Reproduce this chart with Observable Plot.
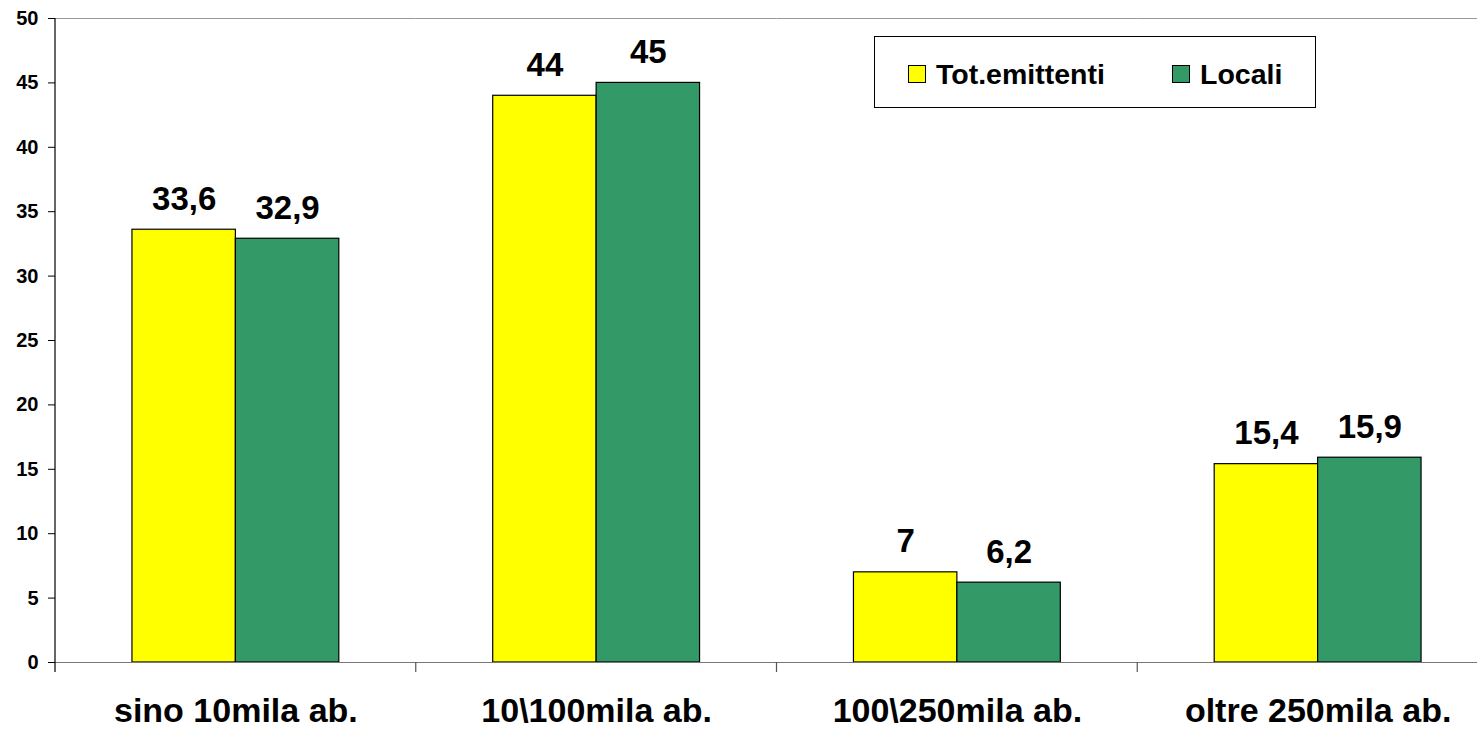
<!DOCTYPE html>
<html>
<head>
<meta charset="utf-8">
<script src="https://cdn.jsdelivr.net/npm/d3@7"></script>
<script src="https://cdn.jsdelivr.net/npm/@observablehq/plot@0.6"></script>
<style>
  html, body { margin: 0; padding: 0; background: #fff; overflow: hidden; }
  #wrap { position: relative; width: 1477px; height: 730px; font-family: "Liberation Sans", Arial, Helvetica, sans-serif; }
  #legend { position: absolute; left: 874px; top: 36px; width: 442px; height: 72px; box-sizing: border-box; border: 1px solid #000; background: #fff; }
  .item { position: absolute; top: 27px; height: 20px; display: flex; align-items: center; font-weight: bold; font-size: 28.5px; line-height: 1; color: #000; }
  .sw { width: 18px; height: 18px; box-sizing: border-box; border: 1px solid #000; margin-right: 10px; }
</style>
</head>
<body>
<div id="wrap"></div>
<script>
const categories = ["sino 10mila ab.", "10\\100mila ab.", "100\\250mila ab.", "oltre 250mila ab."];
const seriesNames = ["Tot.emittenti", "Locali"];
const totValues = [33.6, 44, 7, 15.4];
const localiValues = [32.9, 45, 6.2, 15.9];
const seriesColors = ["#ffff00", "#339966"];
const yTicks = [0, 5, 10, 15, 20, 25, 30, 35, 40, 45, 50];

const rows = [];
categories.forEach((c, i) => {
  rows.push({cat: c, series: seriesNames[0], value: totValues[i]});
  rows.push({cat: c, series: seriesNames[1], value: localiValues[i]});
});
const fmt = v => String(v).replace(".", ",");
const FONT = '"Liberation Sans", Arial, Helvetica, sans-serif';

const chart = Plot.plot({
  width: 1477,
  height: 730,
  marginTop: 18,
  marginBottom: 68,
  marginLeft: 55,
  marginRight: 0,
  style: {fontFamily: FONT, fontWeight: "bold", color: "#000", background: "#fff", overflow: "hidden"},
  fx: {domain: categories, range: [55, 1498], padding: 0, round: false, label: null},
  x: {domain: seriesNames, paddingInner: 0, paddingOuter: 0.744, round: false, axis: null},
  y: {domain: [0, 50], label: null},
  color: {domain: seriesNames, range: seriesColors},
  marks: [
    Plot.ruleY([50], {stroke: "#999", strokeWidth: 1}),
    Plot.barY(rows, {fx: "cat", x: "series", y: "value", fill: "series", stroke: "#000", strokeWidth: 1.2}),
    Plot.ruleY([0], {stroke: "#777", strokeWidth: 1.2}),
    Plot.text(rows, {fx: "cat", x: "series", y: "value", text: d => fmt(d.value), lineAnchor: "bottom", dy: -20, fontSize: 33, fontWeight: "bold", fill: "#000"}),
    Plot.axisY({ticks: yTicks, tickSize: 7, tickPadding: 10, fontSize: 20, fontWeight: "bold", label: null, tickFormat: d => String(d)}),
    Plot.axisFx({anchor: "bottom", tickSize: 0, tickPadding: 35, fontSize: 34, fontWeight: "bold", label: null})
  ]
});

document.getElementById("wrap").appendChild(chart);

// y-axis line and category boundary ticks, placed with the plot's own scales
const fxS = chart.scale("fx");
const yS = chart.scale("y");
const svg = d3.select(chart);
const g = svg.append("g");
const x0 = fxS.apply(categories[0]);
g.append("line")
  .attr("x1", x0).attr("x2", x0)
  .attr("y1", yS.apply(50)).attr("y2", yS.apply(0) + 10)
  .attr("stroke", "#000").attr("stroke-width", 1.2);
categories.slice(1).forEach(c => {
  const bx = fxS.apply(c);
  g.append("line")
    .attr("x1", bx).attr("x2", bx)
    .attr("y1", yS.apply(0)).attr("y2", yS.apply(0) + 10)
    .attr("stroke", "#555").attr("stroke-width", 1.2);
});

// legend
const legend = document.createElement("div");
legend.id = "legend";
const itemLefts = [33, 297];
seriesNames.forEach((s, i) => {
  const it = document.createElement("div");
  it.className = "item";
  it.style.left = itemLefts[i] + "px";
  const sw = document.createElement("div");
  sw.className = "sw";
  sw.style.background = seriesColors[i];
  const t = document.createElement("span");
  t.textContent = s;
  it.appendChild(sw);
  it.appendChild(t);
  legend.appendChild(it);
});
document.getElementById("wrap").appendChild(legend);
</script>
</body>
</html>
